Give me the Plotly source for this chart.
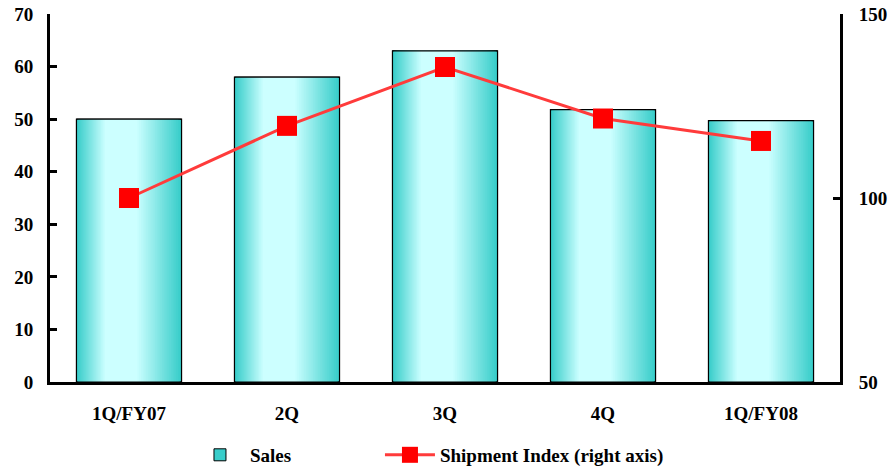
import plotly.graph_objects as go

categories = ["1Q/FY07", "2Q", "3Q", "4Q", "1Q/FY08"]
sales = [50.0, 58.0, 63.0, 51.8, 49.7]
shipment_index = [100.0, 119.6, 135.6, 121.6, 115.5]
left_ticks = [0, 10, 20, 30, 40, 50, 60, 70]
right_ticks = [50, 100, 150]

FONT = "Liberation Serif"
FS = 19
BAR_W = 0.665
EDGE = (56, 205, 202)
LIGHT = (204, 255, 255)

fig = go.Figure()

N = 26
for k in range(N):
    t = k / (N - 1)
    lf = 0.27 * t
    rf = 1 - 0.42 * t
    w = BAR_W * (rf - lf)
    off = -BAR_W / 2 + BAR_W * lf
    c = tuple(round(EDGE[i] + (LIGHT[i] - EDGE[i]) * t) for i in range(3))
    fig.add_trace(go.Bar(
        x=categories, y=sales, width=w, offset=off,
        marker=dict(color="rgb(%d,%d,%d)" % c,
                    line=dict(width=1 if k == 0 else 0, color="#000")),
        name="Sales", showlegend=(k == 0), legend="legend",
        hoverinfo="skip" if k else None,
    ))

# outline on top
fig.add_trace(go.Bar(
    x=categories, y=sales, width=BAR_W, offset=-BAR_W / 2,
    marker=dict(color="rgba(0,0,0,0)", line=dict(width=1.2, color="#000")),
    showlegend=False, hoverinfo="skip",
))

fig.add_trace(go.Scatter(
    x=categories, y=shipment_index, yaxis="y2", mode="lines+markers",
    name="Shipment Index (right axis)", legend="legend2",
    line=dict(color="#FF3B3B", width=3),
    marker=dict(symbol="square", size=20, color="#FF0000"),
))

tf = dict(family=FONT, size=FS, color="#000", weight="bold")
leg_common = dict(
    orientation="h", xref="container", yref="container",
    y=0.032, yanchor="middle", xanchor="left",
    font=tf, itemwidth=50, bgcolor="rgba(0,0,0,0)",
)

fig.update_layout(
    width=889, height=470,
    margin=dict(l=50, r=49, t=14, b=88),
    plot_bgcolor="white", paper_bgcolor="white",
    barmode="overlay",
    font=dict(family=FONT, size=FS, color="#000"),
    xaxis=dict(
        type="category", showline=True, linewidth=3, linecolor="#000",
        ticks="", showgrid=False, ticklabelstandoff=12, automargin=False,
        tickfont=tf, range=[-0.5, 4.5],
    ),
    yaxis=dict(
        range=[0, 70], tickvals=left_ticks, showline=True, linewidth=3,
        linecolor="#000", ticks="inside", ticklen=7, tickwidth=3,
        tickcolor="#000", showgrid=False, zeroline=False,
        ticklabelstandoff=10, automargin=False, tickfont=tf,
    ),
    yaxis2=dict(
        range=[50, 150], tickvals=right_ticks, overlaying="y", side="right",
        showline=True, linewidth=3, linecolor="#000", ticks="inside",
        ticklen=7, tickwidth=3, tickcolor="#000", showgrid=False,
        zeroline=False, ticklabelstandoff=12, automargin=False, tickfont=tf,
    ),
    legend=dict(x=0.2137, **leg_common),
    legend2=dict(x=0.4274, **leg_common),
)

fig.write_html(
    "out.html",
    config={"displayModeBar": False},
    post_script="document.body.style.margin='0';document.body.style.overflow='hidden';",
)
